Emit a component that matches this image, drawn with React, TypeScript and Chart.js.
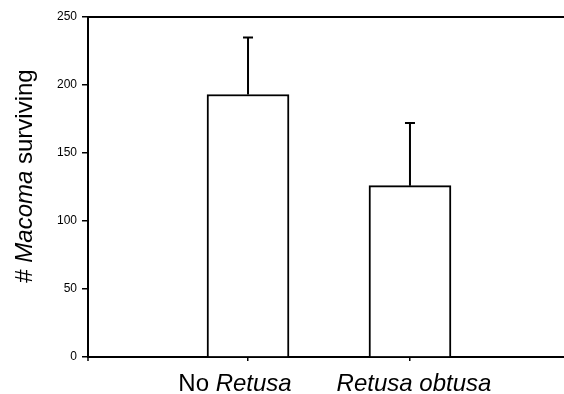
import React, { useEffect, useRef } from "react";
import { Chart, registerables } from "chart.js";

Chart.register(...registerables);

const categoryPositions = [1, 2];
const categoryPrefix = ["No ", ""];
const categoryItalic = ["Retusa", "Retusa obtusa"];
const labelOffsets = [-13, 4];
const meanValues = [193, 126];
const errorUpper = [42, 46];
const yTicks = [0, 50, 100, 150, 200, 250];

const FONT = "'Liberation Sans', Arial, Helvetica, sans-serif";

const customPlugin = {
  id: "customDraw",
  afterDatasetsDraw(chart: any) {
    const ctx = chart.ctx;
    const area = chart.chartArea;
    const xs = chart.scales.x;
    const ys = chart.scales.y;
    ctx.save();
    // top frame line
    ctx.strokeStyle = "#000";
    ctx.lineWidth = 2;
    ctx.beginPath();
    ctx.moveTo(area.left - 1, area.top);
    ctx.lineTo(chart.width, area.top);
    ctx.stroke();
    // y axis extension below x axis
    ctx.lineWidth = 1.5;
    ctx.beginPath();
    ctx.moveTo(area.left, area.bottom);
    ctx.lineTo(area.left, area.bottom + 4);
    ctx.stroke();
    // error bars
    ctx.lineWidth = 2;
    meanValues.forEach((m, i) => {
      const x = xs.getPixelForValue(categoryPositions[i]);
      const y0 = ys.getPixelForValue(m);
      const y1 = ys.getPixelForValue(m + errorUpper[i]);
      ctx.beginPath();
      ctx.moveTo(x, y0);
      ctx.lineTo(x, y1);
      ctx.moveTo(x - 5, y1);
      ctx.lineTo(x + 5, y1);
      ctx.stroke();
    });
    // category labels with mixed style
    ctx.fillStyle = "#000";
    ctx.textBaseline = "alphabetic";
    ctx.textAlign = "left";
    categoryPositions.forEach((v, i) => {
      const cx = xs.getPixelForValue(v) + labelOffsets[i];
      ctx.font = `24px ${FONT}`;
      const w1 = ctx.measureText(categoryPrefix[i]).width;
      ctx.font = `italic 24px ${FONT}`;
      const w2 = ctx.measureText(categoryItalic[i]).width;
      let x = cx - (w1 + w2) / 2;
      ctx.font = `24px ${FONT}`;
      ctx.fillText(categoryPrefix[i], x, area.bottom + 34);
      x += w1;
      ctx.font = `italic 24px ${FONT}`;
      ctx.fillText(categoryItalic[i], x, area.bottom + 34);
    });
    // y title
    const parts: [string, boolean][] = [
      ["# ", false],
      ["Macoma", true],
      [" surviving", false],
    ];
    ctx.save();
    ctx.translate(32, (area.top + area.bottom) / 2 - 11);
    ctx.rotate(-Math.PI / 2);
    let total = 0;
    parts.forEach(([t, it]) => {
      ctx.font = `${it ? "italic " : ""}24px ${FONT}`;
      total += ctx.measureText(t).width;
    });
    let px = -total / 2;
    parts.forEach(([t, it]) => {
      ctx.font = `${it ? "italic " : ""}24px ${FONT}`;
      ctx.fillText(t, px, 0);
      px += ctx.measureText(t).width;
    });
    ctx.restore();
    ctx.restore();
  },
};

export default function App() {
  const ref = useRef<HTMLCanvasElement>(null);
  useEffect(() => {
    if (!ref.current) return;
    const chart = new Chart(ref.current, {
      type: "bar",
      data: {
        datasets: [
          {
            data: categoryPositions.map((x, i) => ({ x, y: meanValues[i] })),
            backgroundColor: "#ffffff",
            borderColor: "#000000",
            borderWidth: 2,
            barThickness: 82,
          } as any,
        ],
      },
      options: {
        animation: false,
        responsive: false,
        devicePixelRatio: 1,
        layout: { padding: { top: 17, right: 0, left: 0, bottom: 0 } },
        plugins: {
          legend: { display: false },
          tooltip: { enabled: false },
        },
        scales: {
          x: {
            type: "linear",
            min: 0.012,
            max: 2.951,
            offset: false,
            afterFit: (s: any) => {
              s.height = 37;
            },
            afterBuildTicks: (s: any) => {
              s.ticks = categoryPositions.map((v) => ({ value: v }));
            },
            grid: {
              offset: false,
              drawOnChartArea: false,
              drawTicks: true,
              tickLength: 4,
              color: "#000",
              lineWidth: 1.5,
            },
            border: { display: true, color: "#000", width: 2 },
            ticks: { display: false },
          } as any,
          y: {
            min: 0,
            max: 250,
            afterFit: (s: any) => {
              s.width = 88;
            },
            afterBuildTicks: (s: any) => {
              s.ticks = yTicks.map((v) => ({ value: v }));
            },
            grid: {
              drawOnChartArea: false,
              drawTicks: true,
              tickLength: 6,
              color: "#000",
              lineWidth: 1.5,
            },
            border: { display: true, color: "#000", width: 2 },
            ticks: {
              color: "#000",
              padding: 5,
              font: { family: FONT, size: 12 },
            },
          } as any,
        },
      },
      plugins: [customPlugin],
    });
    return () => chart.destroy();
  }, []);
  return (
    <div style={{ position: "fixed", left: 0, top: 0, width: 564, height: 394, background: "#fff" }}>
      <canvas ref={ref} width={564} height={394} style={{ display: "block" }} />
    </div>
  );
}
